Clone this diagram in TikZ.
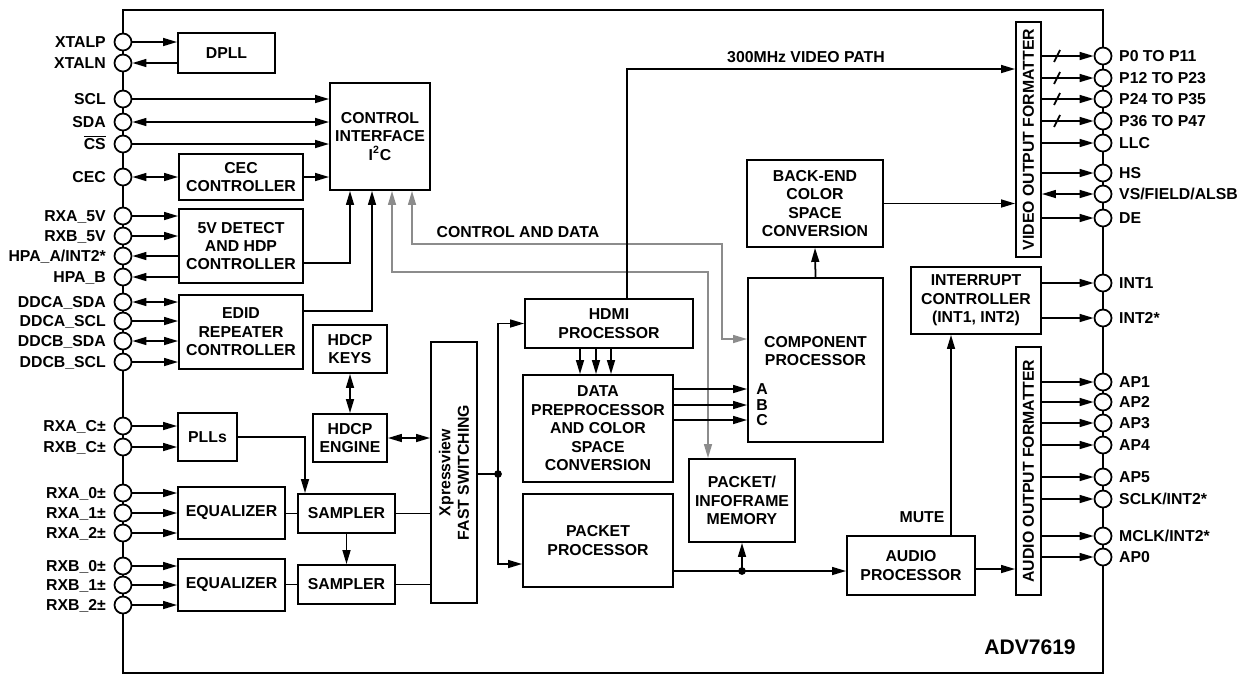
\documentclass[tikz,border=0pt]{standalone}
\usepackage{fontspec}
\setmainfont{Liberation Sans}
\usetikzlibrary{arrows.meta}

\begin{document}
\begin{tikzpicture}[x=0.02cm,y=-0.02cm,
  font=\bfseries\fontsize{9}{10.5}\selectfont,
  caixa/.style 2 args={draw,line width=1pt,align=center,inner sep=0pt,
    minimum width=#1*0.02cm,minimum height=#2*0.02cm},
  pino/.style={draw,line width=1pt,circle,fill=white,inner sep=0pt,minimum size=0.34cm},
  rotulo/.style={inner sep=0pt,text height=6.5pt,text depth=0pt},
  pe/.style={label={[rotulo,label distance=0.15cm]left:#1}},
  pd/.style={label={[rotulo,label distance=0.13cm]right:#1}},
  linha/.style={line width=1pt},
  seta/.style={line width=1pt,-{Triangle[length=8pt,width=4.5pt]}},
  dupla/.style={line width=1pt,{Triangle[length=8pt,width=4.5pt]}-{Triangle[length=8pt,width=4.5pt]}},
  cinza/.style={line width=1pt,draw=black!45,
    {Triangle[length=8pt,width=4.5pt]}-{Triangle[length=8pt,width=4.5pt]}}]

  \useasboundingbox (0,0) rectangle (1247,677);

  % contorno do chip
  \draw[linha] (123,10) rectangle (1103,673);

  % pinos à esquerda
  \node[pino,pe=XTALP] (xtalp) at (123,42) {};
  \node[pino,pe=XTALN] (xtaln) at (123,63) {};
  \node[pino,pe=SCL] (scl) at (123,99) {};
  \node[pino,pe=SDA] (sda) at (123,122) {};
  \node[pino,pe={$\overline{\mbox{CS}}$}] (cs) at (123,144) {};
  \node[pino,pe=CEC] (cecpin) at (123,177) {};
  \node[pino,pe=RXA\_5V] (rxa5v) at (123,216) {};
  \node[pino,pe=RXB\_5V] (rxb5v) at (123,236) {};
  \node[pino,pe=HPA\_A/INT2*] (hpaa) at (123,256) {};
  \node[pino,pe=HPA\_B] (hpab) at (123,277) {};
  \node[pino,pe=DDCA\_SDA] (ddcasda) at (123,302) {};
  \node[pino,pe=DDCA\_SCL] (ddcascl) at (123,321) {};
  \node[pino,pe=DDCB\_SDA] (ddcbsda) at (123,341) {};
  \node[pino,pe=DDCB\_SCL] (ddcbscl) at (123,362) {};
  \node[pino,pe=RXA\_C±] (rxac) at (123,426) {};
  \node[pino,pe=RXB\_C±] (rxbc) at (123,447) {};
  \node[pino,pe=RXA\_0±] (rxa0) at (123,493) {};
  \node[pino,pe=RXA\_1±] (rxa1) at (123,513) {};
  \node[pino,pe=RXA\_2±] (rxa2) at (123,533) {};
  \node[pino,pe=RXB\_0±] (rxb0) at (123,566) {};
  \node[pino,pe=RXB\_1±] (rxb1) at (123,585) {};
  \node[pino,pe=RXB\_2±] (rxb2) at (123,605) {};

  % pinos à direita
  \node[pino,pd=P0 TO P11] (p0) at (1103,56) {};
  \node[pino,pd=P12 TO P23] (p12) at (1103,78) {};
  \node[pino,pd=P24 TO P35] (p24) at (1103,99) {};
  \node[pino,pd=P36 TO P47] (p36) at (1103,121) {};
  \node[pino,pd=LLC] (llc) at (1103,143) {};
  \node[pino,pd=HS] (hs) at (1103,173) {};
  \node[pino,pd=VS/FIELD/ALSB] (vs) at (1103,194) {};
  \node[pino,pd=DE] (de) at (1103,218) {};
  \node[pino,pd=INT1] (int1) at (1103,283) {};
  \node[pino,pd=INT2*] (int2) at (1103,318) {};
  \node[pino,pd=AP1] (ap1) at (1103,382) {};
  \node[pino,pd=AP2] (ap2) at (1103,402) {};
  \node[pino,pd=AP3] (ap3) at (1103,423) {};
  \node[pino,pd=AP4] (ap4) at (1103,445) {};
  \node[pino,pd=AP5] (ap5) at (1103,477) {};
  \node[pino,pd=SCLK/INT2*] (sclk) at (1103,499) {};
  \node[pino,pd=MCLK/INT2*] (mclk) at (1103,536) {};
  \node[pino,pd=AP0] (ap0) at (1103,557) {};

  % blocos
  \node[caixa={97}{40}] (dpll) at (226.5,53) {DPLL};
  \node[caixa={100}{107}] (ctrl) at (380,136.5) {CONTROL\\INTERFACE\\I\textsuperscript{2}C};
  \node[caixa={124}{46}] (cec) at (241,177) {CEC\\CONTROLLER};
  \node[caixa={124}{74}] (det) at (241,246) {5V DETECT\\AND HDP\\CONTROLLER};
  \node[caixa={124}{74}] (edid) at (241,332) {EDID\\REPEATER\\CONTROLLER};
  \node[caixa={74}{48}] (keys) at (350,349) {HDCP\\KEYS};
  \node[caixa={74}{48}] (engine) at (350,438) {HDCP\\ENGINE};
  \node[caixa={261}{46},rotate=90] (xpress) at (454,472.5) {Xpressview\\FAST SWITCHING};
  \node[caixa={59}{48}] (plls) at (207.5,437) {PLLs};
  \node[caixa={107}{52}] (eq1) at (231.5,513) {EQUALIZER};
  \node[caixa={97}{39}] (samp1) at (346.5,513.5) {SAMPLER};
  \node[caixa={107}{52}] (eq2) at (231.5,585) {EQUALIZER};
  \node[caixa={97}{39}] (samp2) at (346.5,584.5) {SAMPLER};
  \node[caixa={168}{49}] (hdmi) at (609,323.5) {HDMI\\PROCESSOR};
  \node[caixa={150}{107}] (datapre) at (598,428.5) {DATA\\PREPROCESSOR\\AND COLOR\\SPACE\\CONVERSION};
  \node[caixa={150}{93}] (packproc) at (598,540.5) {PACKET\\PROCESSOR};
  \node[caixa={135}{164}] (comp) at (815.5,360) {};
  \node[align=center] (comptxt) at (815.5,351) {COMPONENT\\PROCESSOR};
  \node[caixa={136}{87}] (backend) at (815,203.5) {BACK-END\\COLOR\\SPACE\\CONVERSION};
  \node[caixa={106}{83}] (pktmem) at (742,500.5) {PACKET/\\INFOFRAME\\MEMORY};
  \node[caixa={128}{59}] (audio) at (911,565.5) {AUDIO\\PROCESSOR};
  \node[caixa={130}{67}] (intr) at (976,300.5) {INTERRUPT\\CONTROLLER\\(INT1, INT2)};
  \node[caixa={235}{25},rotate=90] (vof) at (1028.5,139.5) {VIDEO OUTPUT FORMATTER};
  \node[caixa={248}{25},rotate=90] (aof) at (1028.5,471) {AUDIO OUTPUT FORMATTER};

  % ligações dos pinos à esquerda
  \draw[seta] (xtalp) -- (xtalp -| dpll.west);
  \draw[seta] (xtaln -| dpll.west) -- (xtaln);
  \draw[seta] (scl) -- (scl -| ctrl.west);
  \draw[dupla] (sda) -- (sda -| ctrl.west);
  \draw[seta] (cs) -- (cs -| ctrl.west);
  \draw[dupla] (cecpin) -- (cec.west);
  \draw[seta] (cec.east) -- (cec.east -| ctrl.west);
  \draw[seta] (rxa5v) -- (rxa5v -| det.west);
  \draw[seta] (rxb5v) -- (rxb5v -| det.west);
  \draw[seta] (hpaa -| det.west) -- (hpaa);
  \draw[seta] (hpab -| det.west) -- (hpab);
  \draw[dupla] (ddcasda) -- (ddcasda -| edid.west);
  \draw[seta] (ddcascl) -- (ddcascl -| edid.west);
  \draw[dupla] (ddcbsda) -- (ddcbsda -| edid.west);
  \draw[seta] (ddcbscl) -- (ddcbscl -| edid.west);
  \draw[seta] (rxac) -- (rxac -| plls.west);
  \draw[seta] (rxbc) -- (rxbc -| plls.west);
  \draw[seta] (rxa0) -- (rxa0 -| eq1.west);
  \draw[seta] (rxa1) -- (rxa1 -| eq1.west);
  \draw[seta] (rxa2) -- (rxa2 -| eq1.west);
  \draw[seta] (rxb0) -- (rxb0 -| eq2.west);
  \draw[seta] (rxb1) -- (rxb1 -| eq2.west);
  \draw[seta] (rxb2) -- (rxb2 -| eq2.west);

  % para a interface de controle
  \draw[seta] (det.east |- 0,263) -| (ctrl.south -| 350,0);
  \draw[seta] (edid.east |- 0,311) -| (ctrl.south -| 372,0);
  \draw[cinza] (ctrl.south -| 412,0) |- (722,244) |- (comp.west |- 0,339);
  \draw[cinza] (ctrl.south -| 392,0) |- (708,272) -- (pktmem.north -| 708,0);
  \node (ctrldata) at (518,232) {CONTROL AND DATA};

  % HDCP e amostragem
  \draw[dupla] (keys.south) -- (engine.north);
  \draw[dupla] (engine.east) -- (engine.east -| xpress.north);
  \draw[seta] (plls.east) -| (samp1.north -| 305,0);
  \draw[linha] (eq1.east |- samp1.west) -- (samp1.west);
  \draw[linha] (samp1.east) -- (samp1.east -| xpress.north);
  \draw[seta] (samp1.south) -- (samp2.north);
  \draw[linha] (eq2.east |- samp2.west) -- (samp2.west);
  \draw[linha] (samp2.east) -- (samp2.east -| xpress.north);

  % saída do Xpressview
  \coordinate (jx) at (498,474);
  \draw[linha] (xpress.south |- jx) -- (jx);
  \fill (jx) circle (2.2pt);
  \draw[seta] (jx) |- (hdmi.west);
  \draw[seta] (jx) |- (packproc.west |- 0,564);

  % caminho de vídeo
  \draw[seta] (hdmi.south -| 580,0) -- (datapre.north -| 580,0);
  \draw[seta] (hdmi.south -| 596,0) -- (datapre.north -| 596,0);
  \draw[seta] (hdmi.south -| 611,0) -- (datapre.north -| 611,0);
  \draw[seta] (datapre.east |- 0,389) -- (comp.west |- 0,389);
  \draw[seta] (datapre.east |- 0,405) -- (comp.west |- 0,405);
  \draw[seta] (datapre.east |- 0,420) -- (comp.west |- 0,420);
  \node[anchor=west,inner sep=0pt] (lA) at (756,389) {A};
  \node[anchor=west,inner sep=0pt] (lB) at (756,405) {B};
  \node[anchor=west,inner sep=0pt] (lC) at (756,420) {C};
  \draw[seta] (comp.north) -- (backend.south);
  \draw[seta] (backend.east) -- (backend.east -| vof.north);
  \draw[seta] (hdmi.north -| 627,0) |- (vof.north |- 0,69);
  \node (vpath) at (806,57) {300MHz VIDEO PATH};

  % caminho de áudio
  \coordinate (jp) at (pktmem.south |- 0,571);
  \draw[seta] (packproc.east |- jp) -- (audio.west |- jp);
  \fill (jp) circle (2.2pt);
  \draw[seta] (jp) -- (pktmem.south);
  \draw[seta] (audio.east |- 0,569) -- (aof.north |- 0,569);
  \draw[seta] (audio.north -| 951,0) -- (intr.south -| 951,0);
  \node (mute) at (922,517) {MUTE};
  \draw[seta] (intr.east |- int1) -- (int1);
  \draw[seta] (intr.east |- int2) -- (int2);

  % saídas de vídeo
  \draw[seta] (vof.south |- p0) -- (p0);
  \draw[seta] (vof.south |- p12) -- (p12);
  \draw[seta] (vof.south |- p24) -- (p24);
  \draw[seta] (vof.south |- p36) -- (p36);
  \draw[linha] (1054,62) -- (1060,50);
  \draw[linha] (1054,84) -- (1060,72);
  \draw[linha] (1054,105) -- (1060,93);
  \draw[linha] (1054,127) -- (1060,115);
  \draw[seta] (vof.south |- llc) -- (llc);
  \draw[seta] (vof.south |- hs) -- (hs);
  \draw[dupla] (vof.south |- vs) -- (vs);
  \draw[seta] (vof.south |- de) -- (de);

  % saídas de áudio
  \draw[seta] (aof.south |- ap1) -- (ap1);
  \draw[seta] (aof.south |- ap2) -- (ap2);
  \draw[seta] (aof.south |- ap3) -- (ap3);
  \draw[seta] (aof.south |- ap4) -- (ap4);
  \draw[seta] (aof.south |- ap5) -- (ap5);
  \draw[seta] (aof.south |- sclk) -- (sclk);
  \draw[seta] (aof.south |- mclk) -- (mclk);
  \draw[seta] (aof.south |- ap0) -- (ap0);

  \node[font=\bfseries\fontsize{12}{14}\selectfont] (chip) at (1030,647) {ADV7619};
\end{tikzpicture}
\end{document}
